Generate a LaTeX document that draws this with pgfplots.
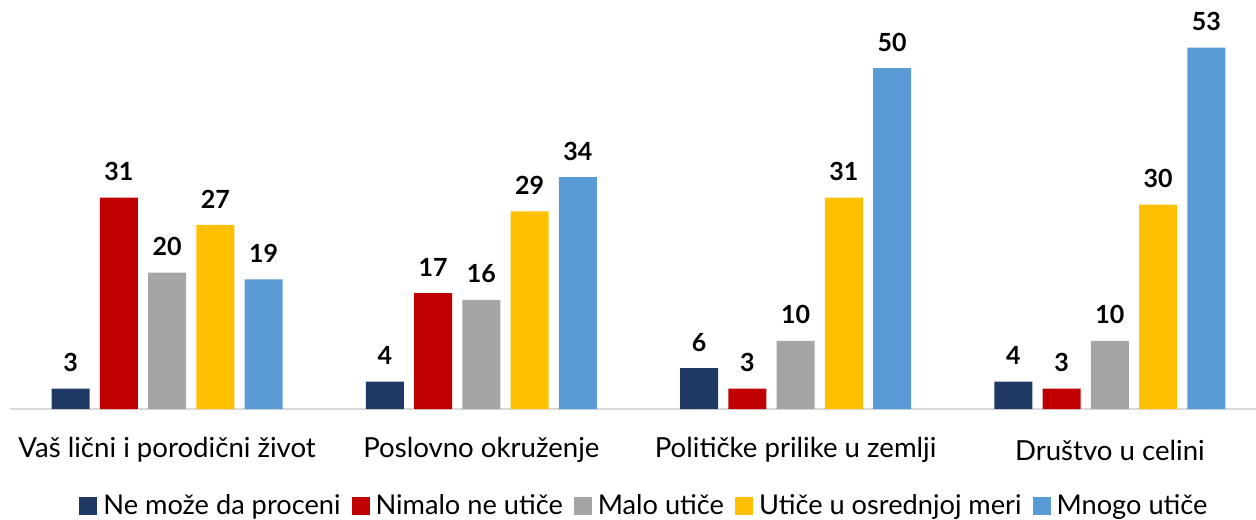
\documentclass[border=0pt]{standalone}
\usepackage{pgfplots}
\pgfplotsset{compat=1.18}
\usepackage{fontspec}
\setmainfont{Lato}
\definecolor{cnavy}{HTML}{203864}
\definecolor{cred}{HTML}{C00000}
\definecolor{cgray}{HTML}{A5A5A5}
\definecolor{cyel}{HTML}{FFC000}
\definecolor{cblue}{HTML}{5B9BD5}
\definecolor{caxis}{HTML}{D9D9D9}
\begin{document}
\begin{tikzpicture}
\begin{axis}[
  at={(5pt,55pt)}, anchor=south west,
  scale only axis, width=623pt, height=204.5pt,
  xmin=-0.5, xmax=3.465, ymin=0, ymax=60,
  hide y axis,
  axis x line*=bottom,
  x axis line style={-, draw=caxis, line width=1pt},
  xtick={0,1,2,3},
  xticklabels={Vaš lični i porodični život, Poslovno okruženje, Političke prilike u zemlji, Društvo u celini},
  major tick length=0pt,
  xticklabel style={font=\fontsize{13.8}{15}\selectfont, anchor=center, yshift=-20.5pt},
  ybar, bar width=19pt,
  nodes near coords,
  /pgf/number format/assume math mode=true,
  every node near coord/.append style={font=\bfseries\fontsize{12.5}{13}\selectfont, anchor=center, yshift=13pt, text=black},
  legend columns=5,
  legend style={at={(0.5,0)}, anchor=center, yshift=-48.5pt, xshift=6pt, draw=none,
    font=\fontsize{13.6}{15}\selectfont,
    /tikz/every even column/.append style={column sep=4pt},
    nodes={inner sep=1.5pt}},
  legend image code/.code={\fill[#1] (0pt,-4.5pt) rectangle (9pt,4.5pt);},
]
\addplot[fill=cnavy, draw=none, bar shift=-48.25pt] coordinates {(0,3) (1,4) (2,6) (3,4)};
\addplot[fill=cred, draw=none, bar shift=-24.125pt] coordinates {(0,31) (1,17) (2,3) (3,3)};
\addplot[fill=cgray, draw=none, bar shift=0pt] coordinates {(0,20) (1,16) (2,10) (3,10)};
\addplot[fill=cyel, draw=none, bar shift=24.125pt] coordinates {(0,27) (1,29) (2,31) (3,30)};
\addplot[fill=cblue, draw=none, bar shift=48.25pt] coordinates {(0,19) (1,34) (2,50) (3,53)};
\legend{\hspace{1.5pt}Ne može da proceni, \hspace{1.5pt}Nimalo ne utiče, \hspace{1.5pt}Malo utiče, \hspace{1.5pt}Utiče u osrednjoj meri, \hspace{1.5pt}Mnogo utiče}
\end{axis}
\pgfresetboundingbox
\path (0,0) rectangle (628pt,259.5pt);
\end{tikzpicture}
\end{document}
